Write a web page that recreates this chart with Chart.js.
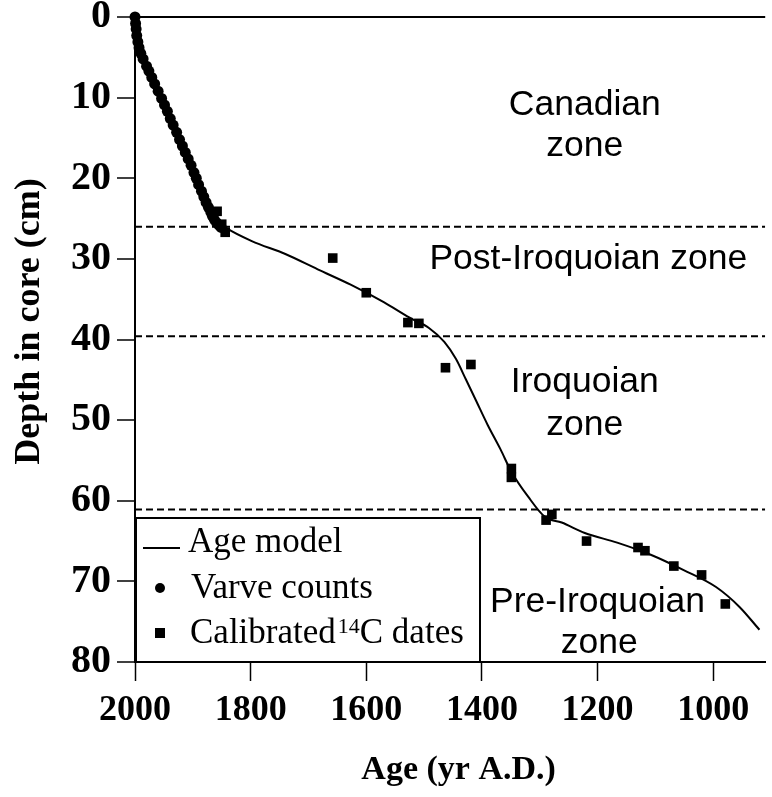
<!DOCTYPE html>
<html><head><meta charset="utf-8">
<script src="https://cdn.jsdelivr.net/npm/chart.js@4"></script>
<style>html,body{margin:0;padding:0;background:#fff}canvas{display:block}</style>
</head><body>
<canvas id="c" width="772" height="797"></canvas>
<script>
// ---- data ----
const xTickValues = [2000, 1800, 1600, 1400, 1200, 1000];
const yTickValues = [0, 10, 20, 30, 40, 50, 60, 70, 80];
const yearRange = [910, 2000];
const depthRange = [0, 80];

const varveYears = [2000, 1999, 1998, 1997, 1995, 1993, 1990, 1986, 1980, 1976, 1971, 1966, 1960, 1954, 1949, 1944, 1939, 1934, 1928, 1923, 1918, 1913, 1908, 1903, 1898, 1894, 1890, 1885, 1881, 1877, 1873, 1869, 1866, 1863, 1859, 1855, 1851];
const varveDepths = [0, 0.8, 1.5, 2.3, 3.1, 3.8, 4.5, 5.2, 6.1, 6.7, 7.5, 8.3, 9.2, 10.1, 10.9, 11.7, 12.6, 13.4, 14.3, 15.2, 16.0, 16.8, 17.6, 18.4, 19.3, 20.0, 20.8, 21.6, 22.3, 23.0, 23.6, 24.2, 24.7, 25.1, 25.5, 25.8, 26.1];

const c14Years = [1858, 1850, 1844, 1658, 1600, 1528, 1509, 1463, 1419, 1349, 1349, 1289, 1279, 1219, 1130, 1118, 1068, 1020, 979];
const c14Depths = [24.1, 25.7, 26.7, 29.9, 34.2, 37.9, 38.0, 43.5, 43.1, 56.0, 57.1, 62.4, 61.7, 65.0, 65.8, 66.2, 68.1, 69.2, 72.8];

const modelYears = [2000, 1980, 1954, 1923, 1894, 1877, 1863, 1844, 1798, 1740, 1684, 1627, 1569, 1525, 1491, 1465, 1445, 1428, 1410, 1390, 1368, 1349, 1320, 1291, 1262, 1222, 1166, 1108, 1051, 995, 954, 920];
const modelDepths = [0, 6.1, 10.1, 15.2, 20.0, 23.0, 25.1, 26.1, 27.8, 29.4, 31.3, 33.2, 35.4, 37.3, 38.6, 40.3, 42.4, 44.9, 47.6, 50.6, 53.6, 56.4, 59.5, 62.0, 62.7, 64.0, 65.2, 66.7, 68.6, 70.7, 73.2, 76.0];

const zoneBoundaryDepths = [26.0, 39.6, 61.1];
const zoneLabelLines = ['Canadian', 'zone', 'Post-Iroquoian zone', 'Iroquoian', 'zone', 'Pre-Iroquoian', 'zone'];
const seriesLabels = ['Age model', 'Varve counts', 'Calibrated', '14', 'C dates'];

// ---- placement of the zone captions (anchored in data space) ----
const zoneLabelAnchors = [
  {year: 1222, depth: 12.2}, {year: 1222, depth: 17.3},
  {year: 1216, depth: 31.3},
  {year: 1222, depth: 46.5}, {year: 1222, depth: 51.8},
  {year: 1200, depth: 73.8}, {year: 1197, depth: 78.9}
];

const pts = (xs, ys) => xs.map((x, i) => ({x: x, y: ys[i]}));

const datasets = [
  {label: seriesLabels[2] + ' ' + seriesLabels[3] + seriesLabels[4], data: pts(c14Years, c14Depths),
   pointStyle: 'rect', pointRadius: 6.8, backgroundColor: '#000', borderWidth: 0, showLine: false, clip: false},
  {label: seriesLabels[1], data: pts(varveYears, varveDepths),
   pointStyle: 'circle', pointRadius: 5.5, backgroundColor: '#000', borderWidth: 0, showLine: false, clip: false},
  {label: seriesLabels[0], data: pts(modelYears, modelDepths),
   showLine: true, pointRadius: 0, borderColor: '#000', borderWidth: 2,
   cubicInterpolationMode: 'monotone', clip: false}
];
zoneBoundaryDepths.forEach(d => datasets.push({
  label: 'boundary', data: [{x: yearRange[1], y: d}, {x: yearRange[0], y: d}],
  showLine: true, pointRadius: 0, borderColor: '#000', borderWidth: 2, borderDash: [7, 4]
}));

const serif = '"Liberation Serif", "Times New Roman", serif';
const sans = '"Liberation Sans", Arial, sans-serif';

const overlayPlugin = {
  id: 'overlay',
  afterDatasetsDraw(chart) {
    const {ctx, chartArea: a, scales} = chart;
    ctx.save();
    // zone captions
    ctx.fillStyle = '#000';
    ctx.font = '35.5px ' + sans;
    ctx.textAlign = 'center';
    ctx.textBaseline = 'alphabetic';
    zoneLabelLines.forEach((t, i) => {
      const an = zoneLabelAnchors[i];
      ctx.fillText(t, scales.x.getPixelForValue(an.year), scales.y.getPixelForValue(an.depth));
    });
    // legend box
    const L = a.left, B = a.bottom, W = 345, H = 145;
    ctx.fillStyle = '#fff';
    ctx.fillRect(L + 1, B - H, W - 1, H);
    ctx.strokeStyle = '#000';
    ctx.lineWidth = 2;
    ctx.strokeRect(L + 1, B - H + 1, W - 1, H - 1);
    ctx.fillStyle = '#000';
    ctx.beginPath();
    ctx.moveTo(L + 8, B - 114); ctx.lineTo(L + 45, B - 114); ctx.stroke();
    ctx.beginPath(); ctx.arc(L + 25, B - 74, 5, 0, Math.PI * 2); ctx.fill();
    ctx.fillRect(L + 20, B - 34, 10, 10);
    ctx.textAlign = 'left';
    ctx.font = '35px ' + serif;
    ctx.fillText(seriesLabels[0], L + 53, B - 110);
    ctx.fillText(seriesLabels[1], L + 56, B - 64);
    let x = L + 55;
    ctx.fillText(seriesLabels[2], x, B - 19);
    x += ctx.measureText(seriesLabels[2]).width + 2;
    ctx.font = '22px ' + serif;
    ctx.fillText(seriesLabels[3], x, B - 29);
    x += ctx.measureText(seriesLabels[3]).width;
    ctx.font = '35px ' + serif;
    ctx.fillText(seriesLabels[4], x, B - 19);
    ctx.restore();
  }
};

new Chart(document.getElementById('c'), {
  type: 'scatter',
  data: {datasets},
  plugins: [overlayPlugin],
  options: {
    responsive: false,
    animation: false,
    devicePixelRatio: 1,
    layout: {padding: {top: 17, right: 0, left: 0, bottom: 0}},
    plugins: {legend: {display: false}, tooltip: {enabled: false}},
    scales: {
      x: {
        type: 'linear', position: 'bottom', reverse: true,
        min: yearRange[0], max: yearRange[1],
        afterBuildTicks: s => { s.ticks = xTickValues.map(v => ({value: v})); },
        afterFit: s => { s.height = 135; s.paddingLeft = 0; s.paddingRight = 0; },
        grid: {drawOnChartArea: false, drawTicks: true, tickLength: 19, tickColor: '#000', tickWidth: 1.5},
        border: {display: true, color: '#000', width: 2},
        ticks: {color: '#000', padding: 8, maxRotation: 0, autoSkip: false,
                callback: v => String(v),
                font: {family: serif, weight: 'bold', size: 36}},
        title: {display: true, text: '\u2002Age (yr A.D.)', color: '#000', padding: {top: 0, bottom: 6},
                font: {family: serif, weight: 'bold', size: 34}}
      },
      y: {
        type: 'linear', position: 'left', reverse: true,
        min: depthRange[0], max: depthRange[1],
        afterBuildTicks: s => { s.ticks = yTickValues.map(v => ({value: v})); },
        afterFit: s => { s.width = 135; s.paddingTop = 0; s.paddingBottom = 0; },
        grid: {drawOnChartArea: true, drawTicks: true, tickLength: 18, tickColor: '#000', tickWidth: 1.5,
               lineWidth: 2,
               color: c => (c.tick && c.tick.value === 0) ? '#000' : 'rgba(0,0,0,0)'},
        border: {display: true, color: '#000', width: 2},
        ticks: {color: '#000', padding: 6, autoSkip: false,
                callback: v => String(v),
                font: {family: serif, weight: 'bold', size: 40}},
        title: {display: true, text: '\u2002\u2002Depth in core (cm)', color: '#000', padding: {top: 8, bottom: 0},
                font: {family: serif, weight: 'bold', size: 36}}
      }
    }
  }
});
</script>
</body></html>
